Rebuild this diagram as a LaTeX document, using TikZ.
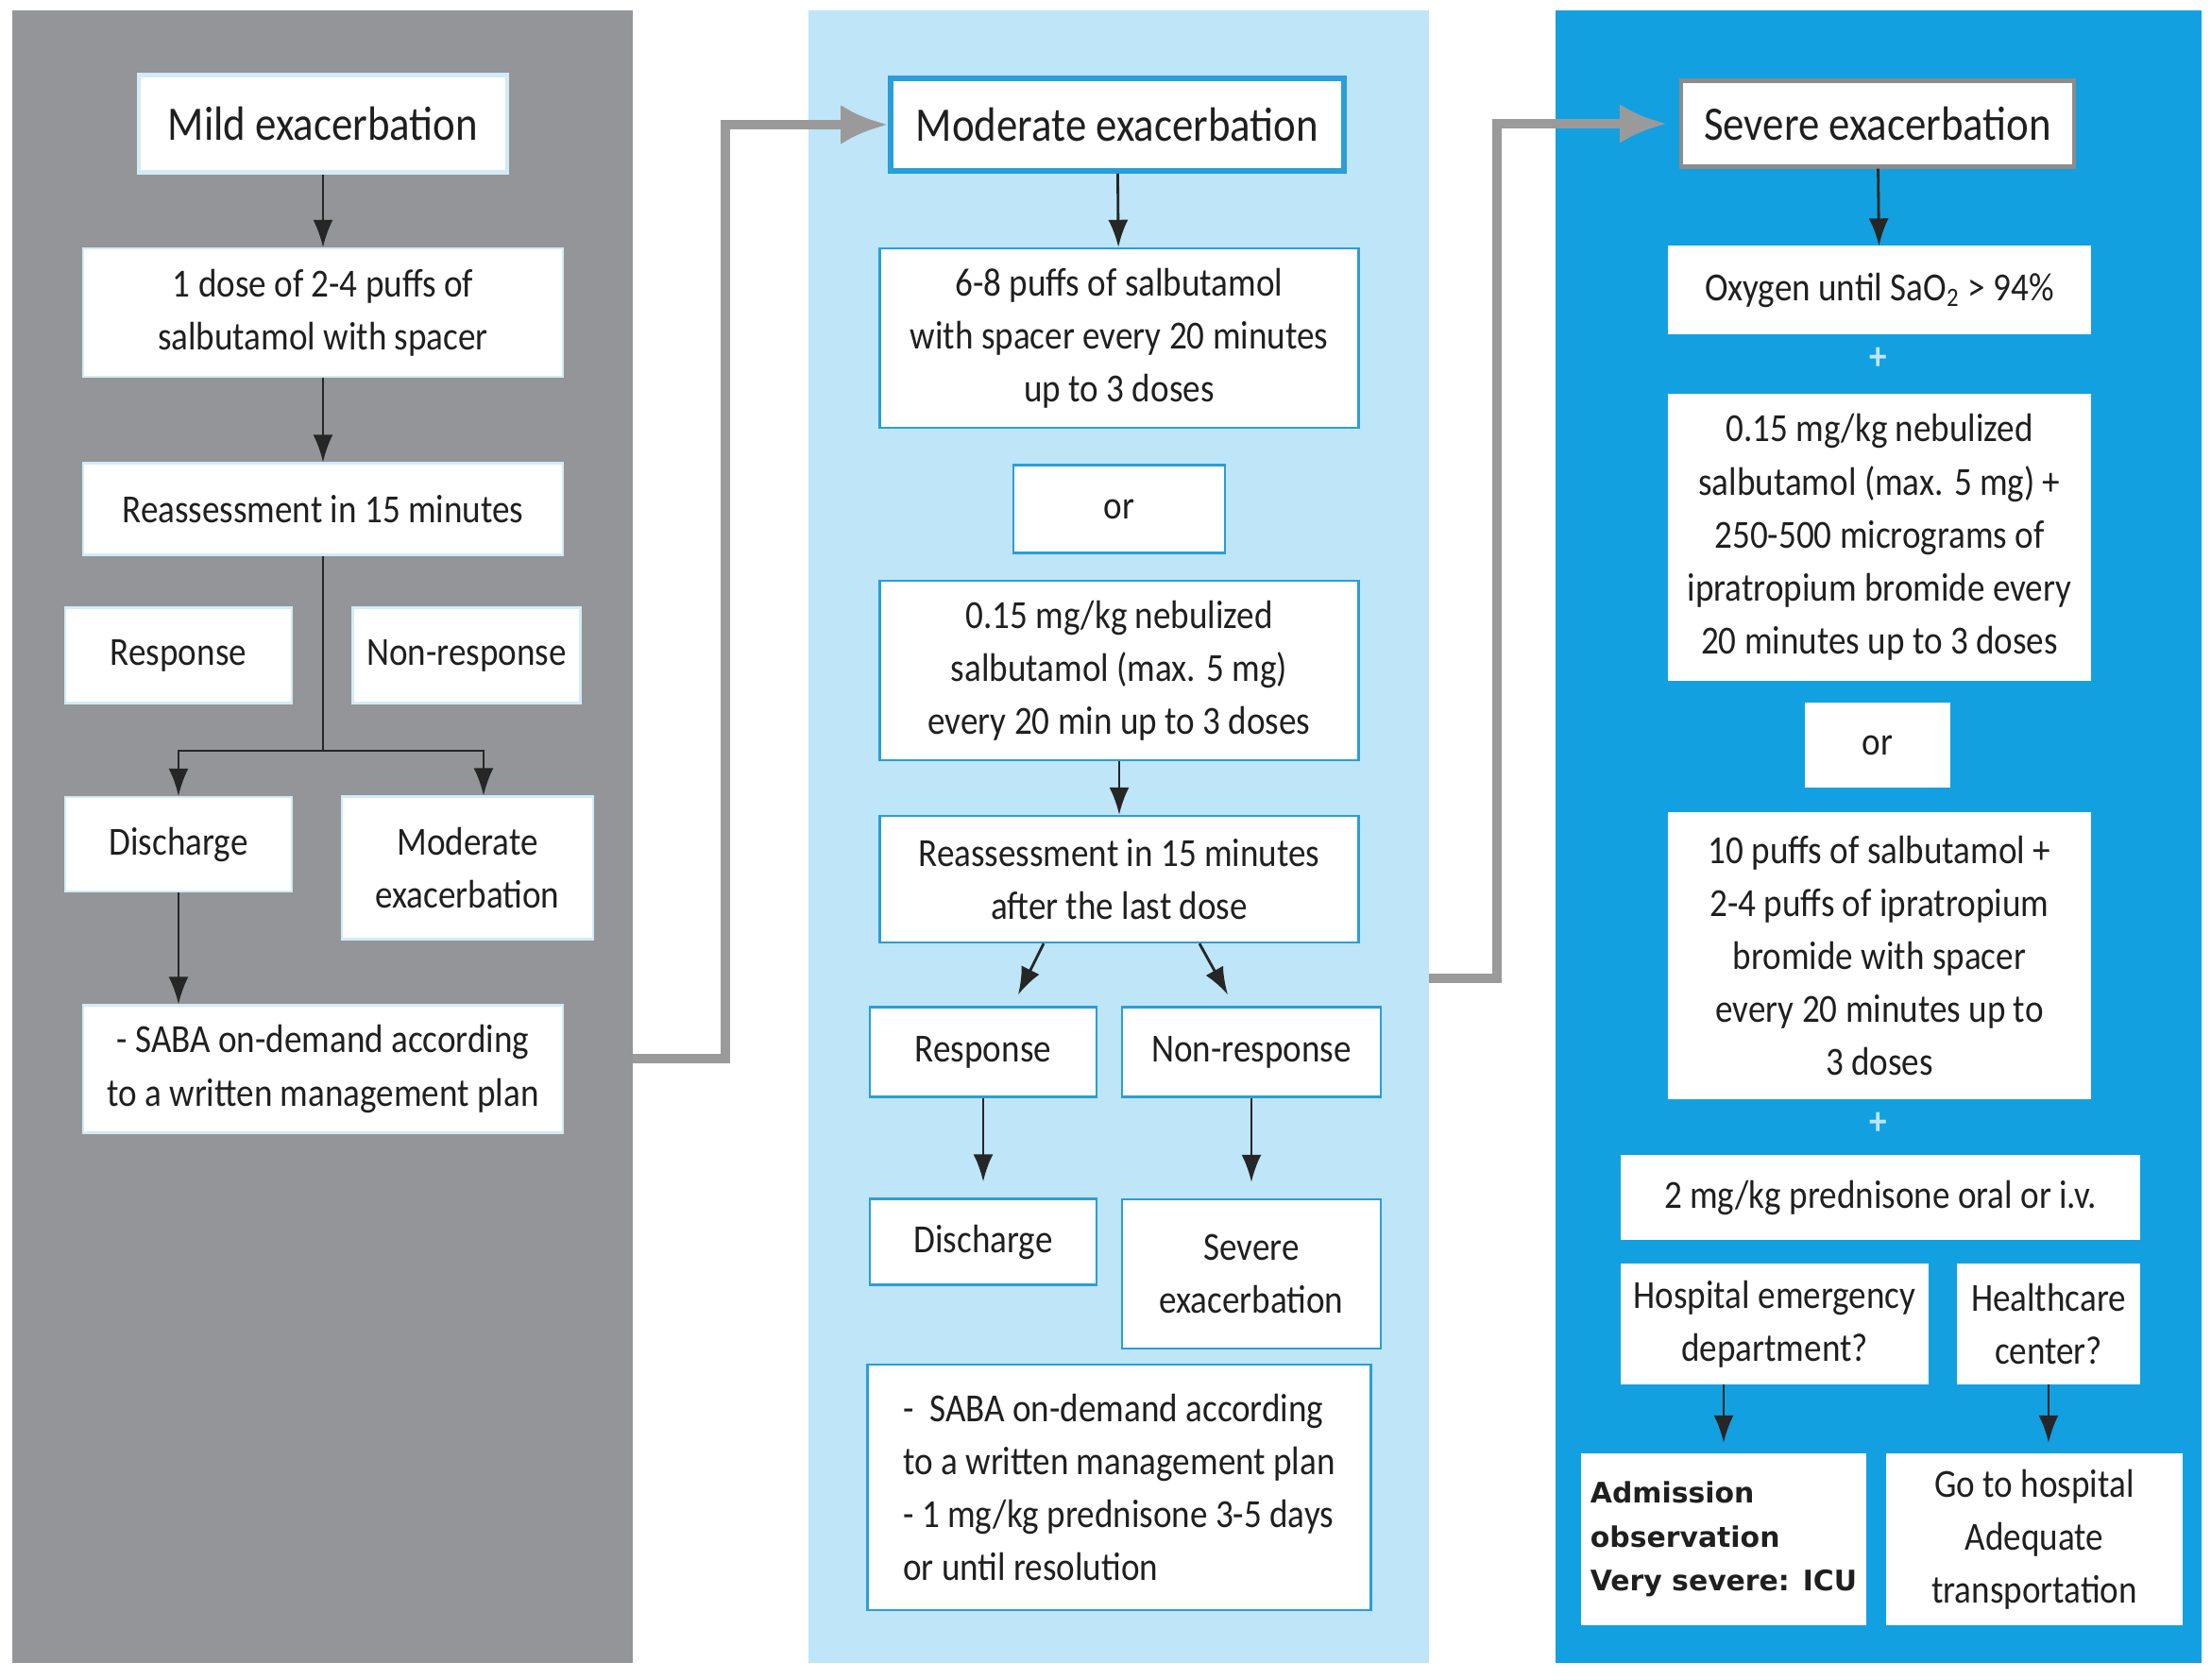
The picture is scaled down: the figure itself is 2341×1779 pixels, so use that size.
\documentclass[tikz,border=0pt]{standalone}
\usepackage{fontspec}
\setmainfont{Carlito}[FakeStretch=0.88]
\newfontfamily\admfont{DejaVu Sans}
\definecolor{panelgrey}{HTML}{939598}
\definecolor{panellight}{HTML}{BEE5F8}
\definecolor{panelblue}{HTML}{12A0E0}
\definecolor{edgeblue}{HTML}{2A9ED8}
\definecolor{edgepale}{HTML}{D2EBF7}
\definecolor{linkgrey}{HTML}{9A9A9A}
\usetikzlibrary{arrows.meta}

\begin{document}
\begin{tikzpicture}[x=0.1mm, y=-0.1mm,
  box/.style={fill=white, inner sep=0pt, align=center, text=black!88,
    font=\fontsize{12}{16}\selectfont},
  mildbox/.style={box, draw=edgepale, line width=0.6pt},
  modbox/.style={box, draw=edgeblue, line width=0.7pt},
  sevbox/.style={box, draw=white},
  head/.style={font=\fontsize{14.5}{16}\selectfont},
  arr/.style={-{Latex[length=2.9mm,width=2.1mm]}, line width=0.8pt, black!85},
  link/.style={-{Latex[length=5mm,width=4.2mm]}, line width=2.6pt, linkgrey},
  plus/.style={font=\bfseries\fontsize{12}{12}\selectfont, text=panellight, inner sep=0pt}
]
  \useasboundingbox (0,0) rectangle (2341,1779);
  \fill[white] (0,0) rectangle (2341,1779);

  % panels
  \fill[panelgrey] (13,11) rectangle (670,1761);
  \fill[panellight] (856,11) rectangle (1513,1761);
  \fill[panelblue] (1647,11) rectangle (2331,1761);

  % mild column
  \node[mildbox, head, line width=1.4pt, minimum width=39mm, minimum height=10.3mm] (mild) at (342,131) {Mild exacerbation};
  \node[mildbox, minimum width=50.8mm, minimum height=13.6mm] (dose) at (342,331) {1 dose of 2-4 puffs of\\salbutamol with spacer};
  \node[mildbox, minimum width=50.8mm, minimum height=9.7mm] (reass) at (342,539) {Reassessment in 15 minutes};
  \node[mildbox, minimum width=24mm, minimum height=10.1mm] (resp) at (189,694) {Response};
  \node[mildbox, minimum width=24.1mm, minimum height=10.1mm] (nonresp) at (494,694) {Non-response};
  \node[mildbox, minimum width=24mm, minimum height=10mm] (disch) at (189,894) {Discharge};
  \node[mildbox, minimum width=26.6mm, minimum height=15.1mm] (moder) at (495,919) {Moderate\\exacerbation};
  \node[mildbox, minimum width=50.8mm, minimum height=13.5mm] (saba) at (342,1132) {- SABA on-demand according\\to a written management plan};

  \draw[arr] (mild) -- (dose);
  \draw[arr] (dose) -- (reass);
  \coordinate (split) at (342,795);
  \draw[line width=0.8pt, black!85] (reass) -- (split);
  \draw[arr] (split) -| (disch.north);
  \draw[arr] (split) -| ([xshift=1.7mm]moder.north);
  \draw[arr] (disch) -- (disch |- saba.north);

  % moderate column
  \node[modbox, head, line width=1.6pt, minimum width=48mm, minimum height=9.8mm] (mtitle) at (1183,132) {Moderate exacerbation};
  \node[modbox, minimum width=50.7mm, minimum height=19mm] (mpuffs) at (1185,358) {6-8 puffs of salbutamol\\with spacer every 20 minutes\\up to 3 doses};
  \node[modbox, minimum width=22.4mm, minimum height=9.3mm] (mor) at (1185,539) {or};
  \node[modbox, minimum width=50.7mm, minimum height=19mm] (mneb) at (1185,710) {0.15 mg/kg nebulized\\salbutamol (max. 5 mg)\\every 20 min up to 3 doses};
  \node[modbox, minimum width=50.7mm, minimum height=13.4mm] (mreass) at (1185,931) {Reassessment in 15 minutes\\after the last dose};
  \node[modbox, minimum width=24mm, minimum height=9.5mm] (mresp) at (1041,1114) {Response};
  \node[modbox, minimum width=27.4mm, minimum height=9.5mm] (mnon) at (1325,1114) {Non-response};
  \node[modbox, minimum width=24mm, minimum height=9.1mm] (mdis) at (1041,1315) {Discharge};
  \node[modbox, minimum width=27.4mm, minimum height=15.8mm] (msev) at (1325,1349) {Severe\\exacerbation};
  \node[modbox, align=left, minimum width=53.3mm, minimum height=26mm] (msaba) at (1185,1575) {-\ \ SABA on-demand according\\to a written management plan\\- 1 mg/kg prednisone 3-5 days\\or until resolution};

  \draw[arr] (mtitle) -- (mpuffs);
  \draw[arr] (mneb) -- (mreass);
  \draw[arr] ([xshift=-8mm]mreass.south) -- ([xshift=3.7mm, yshift=1.2mm]mresp.north);
  \draw[arr] ([xshift=8.5mm]mreass.south) -- ([xshift=-2.5mm, yshift=1.2mm]mnon.north);
  \draw[arr, shorten >=1.7mm] (mresp) -- (mdis);
  \draw[arr, shorten >=1.7mm] (mnon) -- (msev);

  % severe column
  \node[box, head, draw=black!45, line width=1.2pt, minimum width=41.6mm, minimum height=9.1mm] (stitle) at (1988,131) {Severe exacerbation};
  \node[sevbox, minimum width=44.6mm, minimum height=9.2mm] (sox) at (1990,307) {Oxygen until SaO\textsubscript{2} > 94\%};
  \node[plus] (plusa) at (1989,380) {+};
  \node[sevbox, minimum width=44.6mm, minimum height=30.2mm] (sneb) at (1990,569) {0.15 mg/kg nebulized\\salbutamol (max. 5 mg) +\\250-500 micrograms of\\ipratropium bromide every\\20 minutes up to 3 doses};
  \node[sevbox, minimum width=15.2mm, minimum height=8.9mm] (sor) at (1988,789) {or};
  \node[sevbox, minimum width=44.6mm, minimum height=30.3mm] (spuffs) at (1990,1012) {10 puffs of salbutamol +\\2-4 puffs of ipratropium\\bromide with spacer\\every 20 minutes up to\\3 doses};
  \node[plus] (plusb) at (1989,1190) {+};
  \node[sevbox, minimum width=54.8mm, minimum height=8.8mm] (spred) at (1991,1268) {2 mg/kg prednisone oral or i.v.};
  \node[sevbox, minimum width=32.5mm, minimum height=12.7mm] (shosp) at (1879,1402) {Hospital emergency\\department?};
  \node[sevbox, minimum width=19.2mm, minimum height=12.7mm] (shc) at (2169,1402) {Healthcare\\center?};
  \node[sevbox, align=left, font=\admfont\bfseries\fontsize{8.5}{13.3}\selectfont, minimum width=30.1mm, minimum height=18.1mm] (sadm) at (1825,1630) {Admission\\observation\\Very severe: ICU};
  \node[sevbox, minimum width=31.3mm, minimum height=18.1mm] (sgo) at (2154,1630) {Go to hospital\\Adequate\\transportation};

  \draw[arr] (stitle) -- (sox);
  \draw[arr, shorten >=1.1mm] (sadm.north |- shosp.south) -- (sadm.north);
  \draw[arr, shorten >=1.1mm] (shc.south) -- (shc.south |- sgo.north);

  % links between columns
  \coordinate (outmild) at (670,1121);
  \coordinate (outmod) at (1513,1036);
  \draw[link] (outmild) -- ++(98,0) |- (mtitle.west);
  \draw[link, shorten >=1.3mm] (outmod) -- ++(72,0) |- (stitle.west);
\end{tikzpicture}
\end{document}
